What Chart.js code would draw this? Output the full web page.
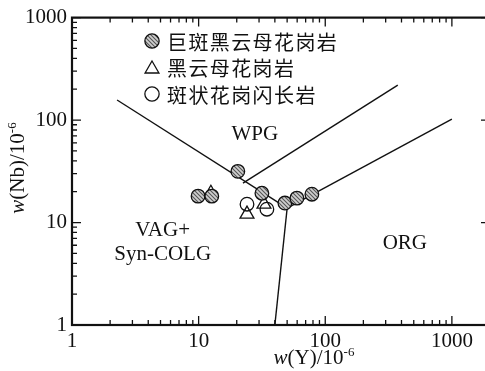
<!DOCTYPE html>
<html><head><meta charset="utf-8">
<script src="https://cdn.jsdelivr.net/npm/chart.js@4.4.0/dist/chart.umd.min.js"></script>
<style>html,body{margin:0;padding:0;overflow:hidden;background:#fff}#wrap{width:500px;height:371px;position:relative}</style>
</head><body><div id="wrap"><canvas id="c" width="500" height="371"></canvas></div>
<script>
// ---- data ----
const xTickLabels = ['1','10','100','1000'];
const yTickLabels = ['1','10','100','1000'];
const seriesNames = ['巨斑黑云母花岗岩','黑云母花岗岩','斑状花岗闪长岩'];
const porphyryY  = [9.9, 12.7, 20.4, 31.6, 48, 59.7, 78.4];
const porphyryNb = [18.1, 18.1, 31.6, 19.3, 15.5, 17.3, 18.9];
const biotiteY   = [24.1, 32.8, 12.5];
const biotiteNb  = [12.1, 15.1, 19.3];
const granodY    = [24.1, 34.6];
const granodNb   = [15.1, 13.5];
const lineA_Y = [2.27, 50],  lineA_Nb = [157, 13.8];
const lineB_Y = [22.4, 374], lineB_Nb = [24.2, 219];
const lineC_Y = [50, 1000],  lineC_Nb = [13.8, 102];
const lineD_Y = [40, 50],    lineD_Nb = [1, 13.8];
const regionNames = ['WPG', 'VAG+', 'Syn-COLG', 'ORG'];
const regionY  = [27.8, 5.2, 5.2, 425];
const regionNb = [72, 8.3, 4.9, 6.2];

const SERIF = '"Liberation Serif", "Times New Roman", serif';
const CJK = '"Noto Sans CJK SC", sans-serif';

function hatch(){
  const c=document.createElement('canvas');c.width=c.height=4;
  const g=c.getContext('2d');
  g.fillStyle='#d0d0d0';g.fillRect(0,0,4,4);
  g.strokeStyle='#555';g.lineWidth=1.1;
  g.beginPath();
  g.moveTo(-1,-1);g.lineTo(5,5);
  g.moveTo(-1,3);g.lineTo(1,5);
  g.moveTo(3,-1);g.lineTo(5,1);
  g.stroke();
  return g.createPattern(c,'repeat');
}
const grayFill = hatch();

const pts = (xs, ys) => xs.map((x,i)=>({x, y: ys[i]}));
const lineDs = (xs, ys) => ({type:'scatter', data: pts(xs,ys), showLine:true, pointRadius:0, borderColor:'#111', borderWidth:1.4, order:4});

const markerStyles = [
  {pointStyle:'circle', radius:6.8, borderWidth:1.3},
  {pointStyle:'triangle', radius:8, borderWidth:1.3},
  {pointStyle:'circle', radius:6.8, borderWidth:1.3}
];

function drawRich(ctx, segs, x, y){
  let w=0; segs.forEach(s=>{ctx.font=s.f; s.w=ctx.measureText(s.t).width; w+=s.w;});
  let cx=x-w/2;
  ctx.textAlign='left'; ctx.textBaseline='alphabetic';
  segs.forEach(s=>{ctx.font=s.f; ctx.fillText(s.t, cx, y+(s.dy||0)); cx+=s.w;});
}

const deco = {
  id:'deco',
  afterDraw(chart){
    const {ctx, chartArea:a, scales:{x, y}} = chart;
    ctx.save();
    ctx.strokeStyle='#111'; ctx.fillStyle='#111';
    // ticks
    ctx.lineWidth=1.3;
    ctx.beginPath();
    for(let d=0; d<4; d++){
      for(let k=1;k<=9;k++){
        const v=k*Math.pow(10,d);
        const L = k===1?9:5;
        if(v>=1 && v<=2000){
          const px=x.getPixelForValue(v);
          ctx.moveTo(px,a.bottom); ctx.lineTo(px,a.bottom-L);
          ctx.moveTo(px,a.top); ctx.lineTo(px,a.top+L);
        }
        if(v>=1 && v<=1000){
          const py=y.getPixelForValue(v);
          ctx.moveTo(a.left,py); ctx.lineTo(a.left+L,py);
          ctx.moveTo(a.right,py); ctx.lineTo(a.right-L,py);
        }
      }
    }
    ctx.stroke();
    ctx.lineWidth=2.2;
    ctx.strokeRect(a.left,a.top,a.right-a.left,a.bottom-a.top);
    // region labels
    ctx.font='21px '+SERIF; ctx.textAlign='center'; ctx.textBaseline='middle';
    regionNames.forEach((n,i)=>ctx.fillText(n, x.getPixelForValue(regionY[i]), y.getPixelForValue(regionNb[i])));
    // legend
    const rows=[41,67.5,94];
    seriesNames.forEach((n,i)=>{
      const m=markerStyles[i];
      ctx.fillStyle = i===0?grayFill:'rgba(0,0,0,0)';
      ctx.strokeStyle='#111'; ctx.lineWidth=m.borderWidth;
      ctx.beginPath();
      if(m.pointStyle==='circle'){ctx.arc(152,rows[i],m.radius*1.05,0,Math.PI*2);}
      else {const r=m.radius, cy=rows[i]+1.5, s=r*Math.sqrt(3); ctx.moveTo(152,cy-r); ctx.lineTo(152+s/2,cy+r/2); ctx.lineTo(152-s/2,cy+r/2); ctx.closePath();}
      ctx.fill(); ctx.stroke();
      ctx.fillStyle='#111';
      ctx.font='20px '+CJK; ctx.textAlign='left'; ctx.textBaseline='middle';
      ctx.letterSpacing='1.4px';
      ctx.fillText(n,167,rows[i]+1);
      ctx.letterSpacing='0px';
    });
    // axis titles
    ctx.fillStyle='#111';
    drawRich(ctx,[{t:'w',f:'italic 21px '+SERIF},{t:'(Y)/10',f:'21px '+SERIF},{t:'-6',f:'13px '+SERIF,dy:-8}],314,364);
    ctx.save();
    ctx.translate(24,168); ctx.rotate(-Math.PI/2);
    drawRich(ctx,[{t:'w',f:'italic 21px '+SERIF},{t:'(Nb)/10',f:'21px '+SERIF},{t:'-6',f:'13px '+SERIF,dy:-8}],0,0);
    ctx.restore();
    ctx.restore();
  }
};

new Chart(document.getElementById('c'), {
  type:'scatter',
  data:{datasets:[
    {label:seriesNames[0], data:pts(porphyryY,porphyryNb), pointStyle:'circle', pointRadius:markerStyles[0].radius, pointBackgroundColor:grayFill, pointBorderColor:'#111', pointBorderWidth:1.3, order:1},
    {label:seriesNames[2], data:pts(granodY,granodNb), pointStyle:'circle', pointRadius:markerStyles[2].radius, pointBackgroundColor:'rgba(0,0,0,0)', pointBorderColor:'#111', pointBorderWidth:1.3, order:2},
    {label:seriesNames[1], data:pts(biotiteY,biotiteNb), pointStyle:'triangle', pointRadius:markerStyles[1].radius, pointBackgroundColor:'rgba(0,0,0,0)', pointBorderColor:'#111', pointBorderWidth:1.3, order:3},
    lineDs(lineA_Y,lineA_Nb), lineDs(lineB_Y,lineB_Nb), lineDs(lineC_Y,lineC_Nb), lineDs(lineD_Y,lineD_Nb)
  ]},
  options:{
    responsive:false, animation:false, devicePixelRatio:1,
    layout:{padding:{top:15,right:10,left:0,bottom:0}},
    plugins:{legend:{display:false}, tooltip:{enabled:false}},
    scales:{
      x:{type:'logarithmic', min:1, max:2000, position:'bottom',
        afterBuildTicks:s=>{s.ticks=xTickLabels.map(t=>({value:+t}));},
        afterFit:s=>{s.height=46;},
        grid:{display:false, drawTicks:false}, border:{display:false},
        ticks:{autoSkip:false, maxRotation:0, padding:4, color:'#111', font:{family:SERIF,size:21},
          callback:(v)=>{const i=xTickLabels.indexOf(String(v)); return i>=0?xTickLabels[i]:'';}}
      },
      y:{type:'logarithmic', min:1, max:1000, position:'left',
        afterBuildTicks:s=>{s.ticks=yTickLabels.map(t=>({value:+t}));},
        afterFit:s=>{s.width=72;},
        grid:{display:false, drawTicks:false}, border:{display:false},
        ticks:{autoSkip:false, padding:5, color:'#111', font:{family:SERIF,size:21},
          callback:(v)=>{const i=yTickLabels.indexOf(String(v)); return i>=0?yTickLabels[i]:'';}}
      }
    }
  },
  plugins:[deco]
});
</script></body></html>
